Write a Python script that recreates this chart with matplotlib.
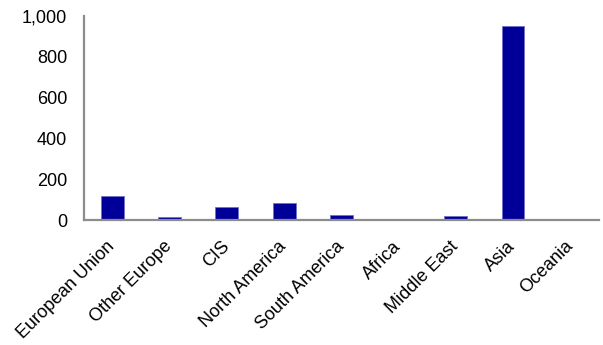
import matplotlib
matplotlib.use("Agg")
import matplotlib.pyplot as plt
from matplotlib.ticker import FuncFormatter
from matplotlib.transforms import ScaledTranslation

regions = ["European Union", "Other Europe", "CIS", "North America", "South America",
           "Africa", "Middle East", "Asia", "Oceania"]
values = [118, 13, 65, 83, 24, 4, 20, 951, 1]
y_ticks = [0, 200, 400, 600, 800, 1000]

plt.rcParams["font.family"] = ["Liberation Sans", "DejaVu Sans"]

fig = plt.figure(figsize=(6.03, 3.45), dpi=100)
ax = fig.add_axes([0.139, 0.362, 0.854, 0.592])

x = list(range(len(regions)))
ax.bar(x, values, width=0.4, color="#000099", edgecolor="#7070c8", linewidth=0.6)

ax.set_xlim(-0.5, len(regions) - 0.5)
ax.set_ylim(0, 1000)
ax.set_yticks(y_ticks)
ax.yaxis.set_major_formatter(FuncFormatter(lambda v, p: f"{int(v):,}"))
ax.set_xticks(x)
ax.set_xticklabels(regions, rotation=45, ha="right", va="center", rotation_mode="anchor")

# nudge the slanted category labels slightly right of their bars
shift = ScaledTranslation(3 / 100, 0, fig.dpi_scale_trans)
for lbl in ax.get_xticklabels():
    lbl.set_transform(lbl.get_transform() + shift)

for side in ("top", "right"):
    ax.spines[side].set_visible(False)
for side in ("left", "bottom"):
    ax.spines[side].set_color("#8c8c8c")
    ax.spines[side].set_linewidth(1.6)

ax.tick_params(axis="both", length=0, labelsize=13, colors="black")
ax.tick_params(axis="y", pad=12)
ax.tick_params(axis="x", pad=17)

fig.savefig("out.png", dpi=100)
